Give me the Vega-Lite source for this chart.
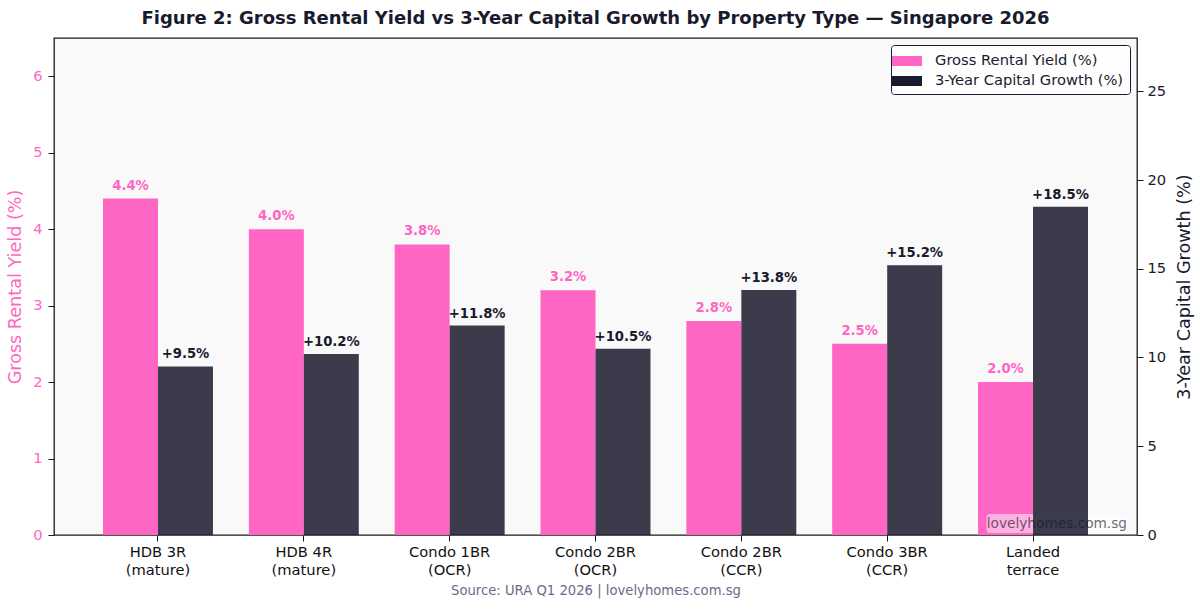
{
  "$schema": "https://vega.github.io/schema/vega-lite/v6.json",
  "width": 1083,
  "height": 497,
  "autosize": {"type": "none"},
  "padding": {"left": 54, "top": 38, "right": 63, "bottom": 74},
  "background": "white",
  "title": {
    "text": "Figure 2: Gross Rental Yield vs 3-Year Capital Growth by Property Type — Singapore 2026",
    "fontSize": 18,
    "fontWeight": "bold",
    "color": "#1a1a2e",
    "anchor": "middle",
    "frame": "group",
    "offset": 10
  },
  "config": {
    "font": "DejaVu Sans",
    "view": {"fill": "#f9f9f9", "stroke": "#1a1a1a", "strokeWidth": 1.3},
    "axis": {"grid": false, "domain": false, "tickColor": "#1a1a1a", "tickSize": 6, "tickWidth": 1, "labelFontSize": 14.7, "titleFontSize": 17.6, "titleFontWeight": "normal"},
    "legend": {
      "orient": "top-right",
      "offset": 7,
      "fillColor": "rgba(255,255,255,0.85)",
      "strokeColor": "#1a1a2e",
      "cornerRadius": 3,
      "padding": 6,
      "labelFontSize": 14.7,
      "labelLimit": 400,
      "labelColor": "#1a1a2e",
      "symbolType": "M-1.5,-0.5H1.5V0.5H-1.5Z",
      "symbolSize": 400,
      "symbolStrokeWidth": 0,
      "symbolOpacity": 1,
      "labelOffset": 18,
      "rowPadding": 3
    }
  },
  "data": {
    "values": [
      {"type": "HDB 3R (mature)", "series": "Gross Rental Yield (%)", "value": 4.4},
      {"type": "HDB 4R (mature)", "series": "Gross Rental Yield (%)", "value": 4.0},
      {"type": "Condo 1BR (OCR)", "series": "Gross Rental Yield (%)", "value": 3.8},
      {"type": "Condo 2BR (OCR)", "series": "Gross Rental Yield (%)", "value": 3.2},
      {"type": "Condo 2BR (CCR)", "series": "Gross Rental Yield (%)", "value": 2.8},
      {"type": "Condo 3BR (CCR)", "series": "Gross Rental Yield (%)", "value": 2.5},
      {"type": "Landed terrace", "series": "Gross Rental Yield (%)", "value": 2.0},
      {"type": "HDB 3R (mature)", "series": "3-Year Capital Growth (%)", "value": 9.5},
      {"type": "HDB 4R (mature)", "series": "3-Year Capital Growth (%)", "value": 10.2},
      {"type": "Condo 1BR (OCR)", "series": "3-Year Capital Growth (%)", "value": 11.8},
      {"type": "Condo 2BR (OCR)", "series": "3-Year Capital Growth (%)", "value": 10.5},
      {"type": "Condo 2BR (CCR)", "series": "3-Year Capital Growth (%)", "value": 13.8},
      {"type": "Condo 3BR (CCR)", "series": "3-Year Capital Growth (%)", "value": 15.2},
      {"type": "Landed terrace", "series": "3-Year Capital Growth (%)", "value": 18.5}
    ]
  },
  "encoding": {
    "x": {
      "field": "type",
      "type": "nominal",
      "sort": null,
      "scale": {
        "domain": ["HDB 3R (mature)", "HDB 4R (mature)", "Condo 1BR (OCR)", "Condo 2BR (OCR)", "Condo 2BR (CCR)", "Condo 3BR (CCR)", "Landed terrace"],
        "paddingInner": 0.246,
        "paddingOuter": 0.336
      },
      "axis": {
        "title": "Source: URA Q1 2026 | lovelyhomes.com.sg",
        "titleColor": "#6b6b8a",
        "titleFontSize": 13.2,
        "titlePadding": 8,
        "labelAngle": 0,
        "labelColor": "#111111",
        "labelPadding": 3,
        "labelLineHeight": 18,
        "labelExpr": "indexof(datum.label, ' (') > 0 ? [substring(datum.label, 0, indexof(datum.label, ' (')), substring(datum.label, indexof(datum.label, ' (') + 1)] : split(datum.label, ' ')"
      }
    },
    "xOffset": {
      "field": "series",
      "type": "nominal",
      "scale": {"domain": ["Gross Rental Yield (%)", "3-Year Capital Growth (%)"]}
    }
  },
  "layer": [
    {
      "transform": [
        {"filter": "datum.series === 'Gross Rental Yield (%)'"},
        {"calculate": "format(datum.value, '.1f') + '%'", "as": "label"}
      ],
      "encoding": {
        "y": {
          "field": "value",
          "type": "quantitative",
          "scale": {"domain": [0, 6.5], "nice": false},
          "axis": {
            "orient": "left",
            "values": [0, 1, 2, 3, 4, 5, 6],
            "title": "Gross Rental Yield (%)",
            "titleColor": "#ff66c4",
            "labelColor": "#ff66c4",
            "labelPadding": 6,
            "titlePadding": 8
          }
        }
      },
      "layer": [
        {
          "mark": {"type": "bar"},
          "encoding": {
            "color": {
              "field": "series",
              "type": "nominal",
              "scale": {"domain": ["Gross Rental Yield (%)", "3-Year Capital Growth (%)"], "range": ["#ff66c4", "#1a1a2e"]},
              "legend": {"title": null}
            }
          }
        },
        {
          "mark": {"type": "text", "baseline": "bottom", "dy": -6, "fontSize": 13.2, "fontWeight": "bold", "color": "#ff66c4"},
          "encoding": {"text": {"field": "label"}}
        }
      ]
    },
    {
      "data": {"values": [{}]},
      "mark": {"type": "rect", "fill": "#ffffff", "fillOpacity": 0.5, "cornerRadius": 3, "width": 141, "height": 19, "yOffset": -11.5},
      "encoding": {
        "x": {"datum": "Landed terrace"},
        "xOffset": {"value": 79},
        "y": {"datum": 0, "scale": {"domain": [0, 28], "nice": false}, "axis": null}
      }
    },
    {
      "transform": [
        {"filter": "datum.series === '3-Year Capital Growth (%)'"},
        {"calculate": "'+' + format(datum.value, '.1f') + '%'", "as": "label"}
      ],
      "encoding": {
        "y": {
          "field": "value",
          "type": "quantitative",
          "scale": {"domain": [0, 28], "nice": false},
          "axis": {
            "orient": "right",
            "values": [0, 5, 10, 15, 20, 25],
            "title": "3-Year Capital Growth (%)",
            "titleAngle": 270,
            "titleColor": "#1a1a2e",
            "labelColor": "#1a1a2e",
            "labelPadding": 4,
            "titlePadding": 28
          }
        }
      },
      "layer": [
        {
          "mark": {"type": "bar", "opacity": 0.85},
          "encoding": {
            "color": {"field": "series", "type": "nominal"}
          }
        },
        {
          "mark": {"type": "text", "baseline": "bottom", "dy": -5, "fontSize": 13.2, "fontWeight": "bold", "color": "#1a1a2e"},
          "encoding": {"text": {"field": "label"}}
        }
      ]
    },
    {
      "data": {"values": [{}]},
      "mark": {"type": "text", "align": "right", "baseline": "bottom", "dx": 149, "dy": -4, "fontSize": 13.7, "color": "#1a1a2e", "opacity": 0.65, "text": "lovelyhomes.com.sg"},
      "encoding": {
        "x": {"datum": "Landed terrace"},
        "xOffset": {"value": 0},
        "y": {"datum": 0, "scale": {"domain": [0, 28], "nice": false}, "axis": null}
      }
    }
  ],
  "resolve": {"scale": {"y": "independent"}}
}
